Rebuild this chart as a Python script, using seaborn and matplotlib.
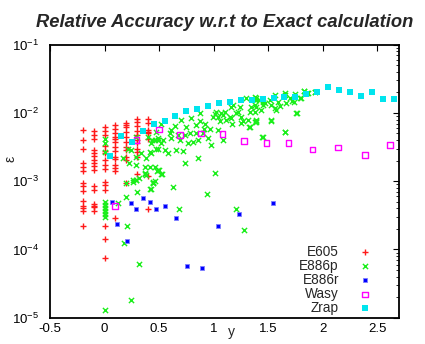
import numpy as np
import pandas as pd
import matplotlib
matplotlib.use("Agg")
import matplotlib.pyplot as plt
import seaborn as sns
from matplotlib.ticker import LogLocator, LogFormatterMathtext, NullFormatter

# ---------------- data ----------------
e605_x = ([-0.2] * 14 + [-0.1] * 16 + [0.0] * 15 + [0.1] * 14 + [0.2] * 11 + [0.3] * 11 + [0.4] * 8)
e605_y = [5.6e-3, 4.0e-3, 3.0e-3, 1.85e-3, 1.6e-3, 1.4e-3, 9.5e-4, 8.5e-4, 7.1e-4, 5.1e-4, 4.4e-4, 4.0e-4, 3.6e-4, 2.2e-4,
          5.5e-3, 4.7e-3, 4.1e-3, 2.9e-3, 2.6e-3, 2.35e-3, 2.05e-3, 1.83e-3, 1.67e-3, 1.46e-3, 8.6e-4, 7.4e-4, 4.7e-4, 4.4e-4, 4.2e-4, 3.7e-4,
          6.3e-3, 5.5e-3, 4.8e-3, 3.3e-3, 2.8e-3, 2.6e-3, 2.05e-3, 1.7e-3, 1.5e-3, 9.8e-4, 8.8e-4, 7.4e-4, 2.2e-4, 1.4e-4, 7.6e-5,
          6.7e-3, 5.9e-3, 5.0e-3, 4.5e-3, 4.1e-3, 3.8e-3, 3.2e-3, 2.8e-3, 2.3e-3, 2.1e-3, 1.7e-3, 1.55e-3, 1.4e-3, 2.9e-4,
          7.2e-3, 6.7e-3, 6.2e-3, 5.3e-3, 4.5e-3, 3.8e-3, 3.2e-3, 2.9e-3, 2.3e-3, 2.05e-3, 9.3e-4,
          8.1e-3, 7.4e-3, 6.4e-3, 5.5e-3, 4.7e-3, 4.0e-3, 3.6e-3, 3.0e-3, 2.7e-3, 2.3e-3, 1.27e-3,
          8.1e-3, 7.2e-3, 5.6e-3, 5.3e-3, 5.0e-3, 4.2e-3, 1.2e-3, 3.9e-4]

e886p_x = [0.0, 0.24, 0.315, 0.175, 0.205, 0.126, 0.193, 0.30, 0.416, 0.624, 0.679, 0.942, 1.208, 1.015, 0.447, 0.459,
           0.26, 0.29, 0.315, 0.373, 0.48, 0.523, 0.0, 0.0, 0.0, 0.0, 0.0, 0.0, 1.275, 0.495, 0.52, 0.443, 0.428,
           0.52, 0.474, 0.437, 0.49, 0.535, 0.596, 0.642, 0.704, 0.749, 0.795, 0.841, 0.872, 0.872, 0.918, 0.908, 0.963,
           0.994, 1.025, 1.07, 1.10, 1.147, 1.177, 1.208, 1.239, 1.269, 1.33, 1.33, 1.386, 1.386, 1.386, 1.30, 1.116,
           1.055, 1.04, 1.086, 0.948, 0.979, 0.856, 0.81, 0.765, 0.734, 0.673, 0.612, 0.581, 0.551, 0.49, 0.658, 0.719,
           0.734, 0.856, 0.459, 0.413, 0.52, 0.612, 0.841, 0.902, 0.78, 0.688, 1.009, 1.04, 1.086, 1.224, 1.162, 1.254, 1.346,
           1.39, 1.376, 1.452, 1.468, 1.514, 1.56, 1.529, 1.59, 1.605, 1.651, 1.666, 1.697, 1.743, 1.737, 1.804, 1.829,
           1.865, 1.926, 1.437, 1.452, 1.56, 1.575, 1.376, 1.758, 1.376, 1.39, 1.529, 1.651, 1.452, 1.376, 1.413,
           0.0, 0.0, 0.0, 0.168, 0.214, 0.245, 0.223, 0.29, 0.336, 0.382, 0.428, 0.474, 0.29, 0.367, 0.413, 0.367, 0.382,
           0.26, 0.29, 0.199, 0.444, 0.428, 0.489, 0.459, 0.398, 0.29, 0.489,
           1.156, 1.17, 1.248, 1.315, 1.324, 1.385, 1.447, 1.526, 1.651, 1.761, 1.826, 1.856, 1.927, 1.795, 1.722, 1.651]
e886p_y = [1.3e-5, 1.8e-5, 6.05e-5, 1.23e-4, 2.23e-4, 4.74e-4, 5.9e-4, 6.9e-4, 7.7e-4, 8.3e-4, 3.87e-4, 6.6e-4, 3.9e-4, 1.33e-3, 9.3e-4, 1.0e-3,
           9.8e-4, 1.05e-3, 1.1e-3, 1.27e-3, 1.42e-3, 1.26e-3, 4.9e-4, 4.5e-4, 4.0e-4, 3.6e-4, 3.3e-4, 3.0e-4, 1.93e-4, 1.46e-3, 1.26e-3, 9.8e-4, 7.7e-4,
           7.0e-3, 5.3e-3, 4.0e-3, 4.0e-3, 4.0e-3, 5.0e-3, 6.5e-3, 7.9e-3, 6.3e-3, 8.3e-3, 6.7e-3, 9.9e-3, 7.5e-3, 7.0e-3, 5.75e-3, 5.8e-3,
           8.8e-3, 1.05e-2, 9.9e-3, 1.05e-2, 8.8e-3, 1.31e-2, 9.9e-3, 1.24e-2, 7.5e-3, 6.3e-3, 1.05e-2, 7.5e-3, 1.55e-2, 1.24e-2, 1.64e-2, 7.9e-3,
           7.5e-3, 5.6e-3, 4.0e-3, 4.25e-3, 3.4e-3, 4.0e-3, 3.8e-3, 3.6e-3, 4.75e-3, 4.75e-3, 4.25e-3, 2.56e-3, 2.87e-3, 3.0e-3, 2.87e-3, 2.77e-3,
           1.83e-3, 2.16e-3, 1.6e-3, 2.7e-3, 3.6e-3, 5.6e-3, 5.0e-3, 5.0e-3, 5.0e-3, 4.0e-3, 9.5e-3, 8.8e-3, 9.4e-3, 1.05e-2, 1.24e-2, 8.8e-3, 1.24e-2,
           1.64e-2, 1.31e-2, 1.46e-2, 1.39e-2, 1.55e-2, 1.83e-2, 1.31e-2, 1.46e-2, 1.26e-2, 1.83e-2, 1.39e-2, 1.64e-2, 1.89e-2, 1.46e-2, 1.64e-2, 2.12e-2,
           1.94e-2, 2.05e-2, 1.1e-2, 1.31e-2, 1.17e-2, 1.1e-2, 1.04e-2, 9.9e-3, 7.4e-3, 7.4e-3, 7.7e-3, 5.2e-3, 4.5e-3, 1.73e-2, 1.55e-2,
           4.1e-3, 3.6e-3, 2.7e-3, 2.16e-3, 3.0e-3, 2.9e-3, 1.87e-3, 2.29e-3, 2.56e-3, 2.16e-3, 2.56e-3, 3.0e-3, 1.73e-3, 1.6e-3, 1.6e-3, 1.3e-3, 1.25e-3,
           1.04e-3, 1.03e-3, 9.5e-4, 9.5e-4, 3.6e-3, 4.25e-3, 4.0e-3, 4.5e-3, 4.5e-3, 1.46e-3,
           8.4e-3, 6.8e-3, 7.2e-3, 7.9e-3, 6.2e-3, 7.8e-3, 4.5e-3, 7.9e-3, 5.2e-3, 9.9e-3, 2.12e-2, 1.94e-2, 2.05e-2, 1.64e-2, 1.5e-2, 1.94e-2]

e886r_x = [0.064, 0.11, 0.205, 0.245, 0.29, 0.355, 0.416, 0.474, 0.553, 0.651, 0.752, 0.893, 1.037, 1.229, 1.544]
e886r_y = [5.0e-4, 2.33e-4, 1.34e-4, 4.74e-4, 3.87e-4, 5.73e-4, 4.96e-4, 3.95e-4, 4.33e-4, 2.86e-4, 5.7e-5, 5.3e-5, 2.23e-4, 3.3e-4, 4.74e-4]

wasy_x = [0.095, 0.294, 0.498, 0.694, 0.887, 1.08, 1.28, 1.486, 1.685, 1.905, 2.14, 2.39, 2.62]
wasy_y = [4.34e-4, 4.0e-3, 5.7e-3, 4.75e-3, 5.0e-3, 4.9e-3, 3.9e-3, 3.6e-3, 3.6e-3, 2.93e-3, 3.14e-3, 2.42e-3, 3.36e-3]

zrap_x = [0.05, 0.15, 0.25, 0.35, 0.45, 0.55, 0.65, 0.75, 0.85, 0.95, 1.05, 1.15, 1.25, 1.35,
          1.45, 1.55, 1.65, 1.75, 1.85, 1.95, 2.05, 2.15, 2.25, 2.35, 2.45, 2.55, 2.65]
zrap_y = [2.37e-3, 4.6e-3, 3.8e-3, 5.5e-3, 6.9e-3, 7.7e-3, 9.1e-3, 1.08e-2, 1.14e-2, 1.28e-2, 1.41e-2, 1.46e-2, 1.56e-2, 1.56e-2,
          1.62e-2, 1.67e-2, 1.73e-2, 1.73e-2, 1.91e-2, 2.05e-2, 2.42e-2, 2.19e-2, 2.05e-2, 1.79e-2, 2.05e-2, 1.62e-2, 1.62e-2]

x_ticks = [-0.5, 0, 0.5, 1, 1.5, 2, 2.5]
x_tick_labels = ["-0.5", "0", "0.5", "1", "1.5", "2", "2.5"]

# ---------------- plot ----------------
sns.set_theme(style="white")
plt.rcParams["font.family"] = ["Liberation Sans", "DejaVu Sans"]
plt.rcParams["mathtext.fontset"] = "custom"
plt.rcParams["mathtext.rm"] = "Liberation Sans"
plt.rcParams["mathtext.it"] = "Liberation Sans:italic"

fig = plt.figure(figsize=(4.25, 3.44), dpi=100)
ax = fig.add_axes([50 / 425, 1 - 317.7 / 344, 349 / 425, 273 / 344])

series = [
    ("E605", e605_x, e605_y, dict(marker="+", s=22, linewidth=1.0, color="#ff1a1a")),
    ("E886p", e886p_x, e886p_y, dict(marker="x", s=14, linewidth=1.0, color="#1aee1a")),
    ("E886r", e886r_x, e886r_y, dict(marker="s", s=9, linewidth=0.6, color="#0000ff", edgecolor="#8080ff")),
    ("Wasy", wasy_x, wasy_y, dict(marker="s", s=16, linewidth=1.0, facecolor="none", edgecolor="#ff00ff")),
    ("Zrap", zrap_x, zrap_y, dict(marker="s", s=14, linewidth=0, color="#00e5ee")),
]
for name, xs, ys, kw in series:
    df = pd.DataFrame({"y": xs, "eps": ys})
    sns.scatterplot(data=df, x="y", y="eps", ax=ax, label=name, **kw)

ax.set_yscale("log")
ax.set_ylim(1e-5, 1e-1)
ax.set_xlim(-0.5, 2.7)
ax.set_xticks(x_ticks)
ax.set_xticklabels(x_tick_labels)
ax.yaxis.set_major_locator(LogLocator(base=10, numticks=10))
ax.yaxis.set_major_formatter(LogFormatterMathtext())
ax.yaxis.set_minor_locator(LogLocator(base=10, subs=np.arange(2, 10), numticks=20))
ax.yaxis.set_minor_formatter(NullFormatter())

for sp in ax.spines.values():
    sp.set_color("black")
    sp.set_linewidth(1.3)
ax.tick_params(axis="both", which="both", direction="in", top=True, right=True, colors="black")
ax.tick_params(axis="both", which="major", length=4, width=0.8, labelsize=9.5)
ax.tick_params(axis="y", which="major", pad=8)
ax.tick_params(axis="x", which="major", pad=4)
ax.tick_params(axis="y", which="minor", length=2, width=0.6)

ax.set_xlabel("y", fontsize=10)
ax.xaxis.set_label_coords(0.519, -0.025)
ax.set_ylabel("ε", fontsize=10, va="center", ha="center")
ax.yaxis.set_label_coords(-0.113, 0.581)

ax.set_title("Relative Accuracy w.r.t to Exact calculation", fontsize=13.2,
             fontweight="bold", fontstyle="italic", pad=13)

leg = ax.legend(loc="lower right", bbox_to_anchor=(0.945, -0.025), markerfirst=False, frameon=False,
                fontsize=9.8, handlelength=0.8, handletextpad=1.5, labelspacing=0.0, borderpad=0.2)

fig.savefig("out.png", dpi=100)
